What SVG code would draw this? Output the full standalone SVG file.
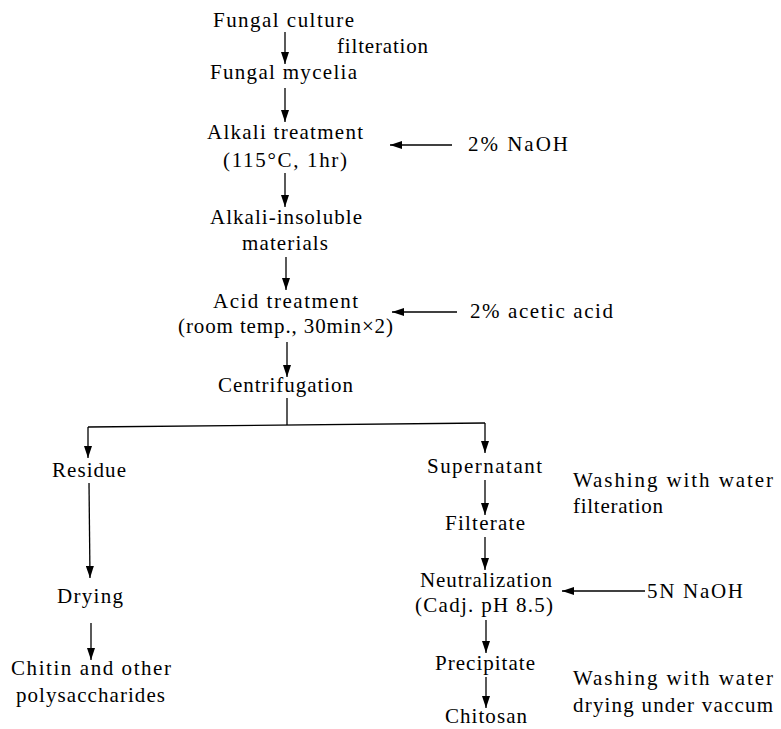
<svg xmlns="http://www.w3.org/2000/svg" width="781" height="729" viewBox="0 0 781 729">
<defs>
<marker id="ah" markerUnits="userSpaceOnUse" markerWidth="13" markerHeight="8" refX="12" refY="4" orient="auto">
<path d="M0,0 L12,4 L0,8 z" fill="#000"/>
</marker>
<style>
text{font-family:"Liberation Serif","Times New Roman",serif;font-size:21px;fill:#000}
.c line,.c polyline{stroke:#000;stroke-width:1.3;fill:none}
.a{marker-end:url(#ah)}
</style>
</defs>
<rect width="781" height="729" fill="#fff"/>
<g class="c" id="connectors">
<line class="a" x1="285" y1="32" x2="285" y2="64"/>
<line class="a" x1="285" y1="88" x2="285" y2="122"/>
<line class="a" x1="452" y1="145" x2="390" y2="145"/>
<line class="a" x1="285" y1="173" x2="285" y2="207"/>
<line class="a" x1="286" y1="257" x2="286" y2="290"/>
<line class="a" x1="457" y1="312" x2="392" y2="312"/>
<line class="a" x1="287" y1="342" x2="287" y2="377"/>
<line x1="287" y1="398" x2="287" y2="425"/>
<line x1="88" y1="427" x2="485" y2="423"/>
<line class="a" x1="88" y1="427" x2="88" y2="458"/>
<line class="a" x1="485" y1="423" x2="485" y2="453"/>
<line class="a" x1="89" y1="483" x2="90" y2="578"/>
<line class="a" x1="91" y1="623" x2="91" y2="660"/>
<line class="a" x1="485" y1="480" x2="485" y2="515"/>
<line class="a" x1="485" y1="537" x2="485" y2="570"/>
<line class="a" x1="645" y1="591" x2="562" y2="591"/>
<line class="a" x1="486" y1="620" x2="486" y2="653"/>
<line class="a" x1="486" y1="677" x2="486" y2="708"/>
</g>
<g id="n-culture"><text x="213" y="27" textLength="141" lengthAdjust="spacing">Fungal culture</text></g>
<g id="l-filteration1"><text x="337" y="53" textLength="91" lengthAdjust="spacing">filteration</text></g>
<g id="n-mycelia"><text x="210" y="79" textLength="147" lengthAdjust="spacing">Fungal mycelia</text></g>
<g id="n-alkali"><text x="207" y="139" textLength="156" lengthAdjust="spacing">Alkali treatment</text><text x="223" y="167" textLength="124" lengthAdjust="spacing">(115°C, 1hr)</text></g>
<g id="n-naoh"><text x="468" y="151" textLength="100" lengthAdjust="spacing">2% NaOH</text></g>
<g id="n-insoluble"><text x="210" y="224" textLength="152" lengthAdjust="spacing">Alkali-insoluble</text><text x="242" y="250" textLength="86" lengthAdjust="spacing">materials</text></g>
<g id="n-acid"><text x="213" y="308" textLength="145" lengthAdjust="spacing">Acid treatment</text><text x="178" y="333" textLength="215" lengthAdjust="spacing">(room temp., 30min×2)</text></g>
<g id="n-acetic"><text x="470" y="318" textLength="143" lengthAdjust="spacing">2% acetic acid</text></g>
<g id="n-centri"><text x="218" y="392" textLength="135" lengthAdjust="spacing">Centrifugation</text></g>
<g id="n-residue"><text x="52" y="477" textLength="74" lengthAdjust="spacing">Residue</text></g>
<g id="n-drying"><text x="57" y="603" textLength="66" lengthAdjust="spacing">Drying</text></g>
<g id="n-chitin"><text x="11" y="675" textLength="160" lengthAdjust="spacing">Chitin and other</text><text x="16" y="702" textLength="149" lengthAdjust="spacing">polysaccharides</text></g>
<g id="n-super"><text x="427" y="473" textLength="115" lengthAdjust="spacing">Supernatant</text></g>
<g id="l-wash1"><text x="573" y="487" textLength="200" lengthAdjust="spacing">Washing with water</text><text x="573" y="513" textLength="90" lengthAdjust="spacing">filteration</text></g>
<g id="n-filterate"><text x="445" y="530" textLength="80" lengthAdjust="spacing">Filterate</text></g>
<g id="n-neutral"><text x="420" y="587" textLength="132" lengthAdjust="spacing">Neutralization</text><text x="415" y="612" textLength="138" lengthAdjust="spacing">(Cadj. pH 8.5)</text></g>
<g id="n-5n"><text x="647" y="598" textLength="96" lengthAdjust="spacing">5N NaOH</text></g>
<g id="n-precip"><text x="435" y="670" textLength="100" lengthAdjust="spacing">Precipitate</text></g>
<g id="l-wash2"><text x="573" y="685" textLength="200" lengthAdjust="spacing">Washing with water</text><text x="573" y="712" textLength="200" lengthAdjust="spacing">drying under vaccum</text></g>
<g id="n-chitosan"><text x="445" y="723" textLength="82" lengthAdjust="spacing">Chitosan</text></g>
</svg>
